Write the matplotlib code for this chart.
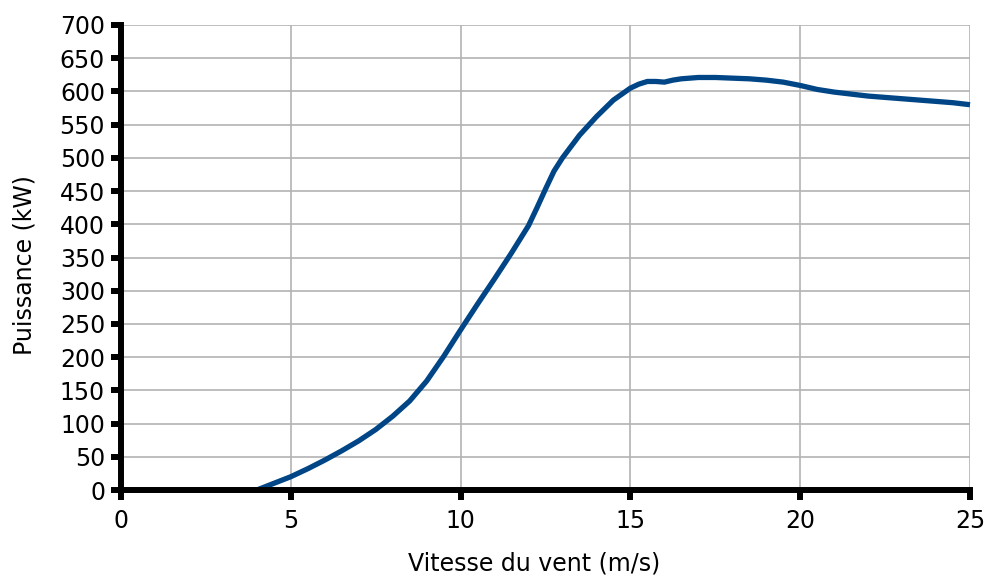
import matplotlib
matplotlib.use("Agg")
import matplotlib.pyplot as plt

wind = [4, 4.5, 5, 5.5, 6, 6.5, 7, 7.5, 8, 8.5, 9, 9.5, 10, 10.5, 11, 11.5, 12,
        12.25, 12.5, 12.75, 13, 13.5, 14, 14.5, 15, 15.25, 15.5, 15.75, 16, 16.25,
        16.5, 17, 17.5, 18, 18.5, 19, 19.5, 20, 20.5, 21, 21.5, 22, 22.5, 23,
        23.5, 24, 24.5, 25]
power = [0, 10, 20, 32, 45, 59, 74, 91, 111, 134, 164, 201, 241, 280, 318, 357, 398,
         425, 453, 480, 500, 534, 562, 587, 605, 611, 615, 615, 614, 617,
         619, 621, 621, 620, 619, 617, 614, 609, 603, 599, 596, 593, 591, 589,
         587, 585, 583, 580]

xticks = [0, 5, 10, 15, 20, 25]
yticks = list(range(0, 701, 50))

fig = plt.figure(figsize=(9.86, 5.76), dpi=100)
ax = fig.add_axes([121/986, 86/576, (970-121)/986, (490-25)/576])

ax.plot(wind, power, color="#004586", lw=3.8, solid_capstyle="butt",
        solid_joinstyle="round", zorder=3, clip_on=False)

ax.set_xlim(0, 25)
ax.set_ylim(0, 700)
ax.set_xticks(xticks)
ax.set_yticks(yticks)
ax.grid(True, color="#b3b3b3", lw=1.2, zorder=0)
ax.set_axisbelow(True)
for s in ["top", "right"]:
    ax.spines[s].set_visible(False)
for s in ["left", "bottom"]:
    ax.spines[s].set_linewidth(4.3)
    ax.spines[s].set_zorder(4)
ax.tick_params(axis="both", direction="out", length=7, width=4.3, labelsize=17)
ax.tick_params(axis="x", pad=7)
ax.tick_params(axis="y", pad=4.5)
ax.set_xlabel("Vitesse du vent (m/s)", fontsize=17)
ax.set_ylabel("Puissance (kW)", fontsize=17)
ax.xaxis.set_label_coords(0.4865, -0.133)
ax.yaxis.set_label_coords(-0.099, 0.484)

fig.savefig("out.png", dpi=100)
